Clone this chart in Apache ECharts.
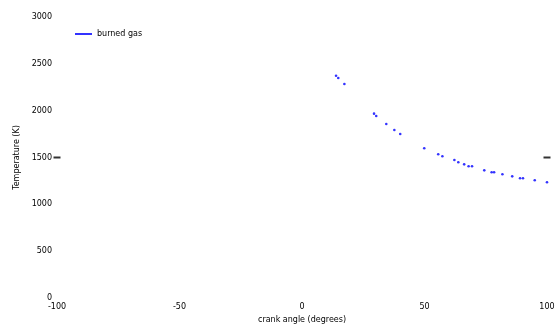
<!DOCTYPE html>
<html><head><meta charset="utf-8">
<script src="https://cdn.jsdelivr.net/npm/echarts@6/dist/echarts.min.js"></script>
<style>html,body{margin:0;padding:0;background:#fff}#c{width:558px;height:335px}</style>
</head><body><div id="c"></div>
<script>
var crankAngle = [13.9, 14.8, 17.3, 29.4, 30.3, 34.4, 37.7, 40.1, 49.9, 55.6, 57.3, 62.2, 63.8, 66.2, 68.0, 69.4, 74.4, 77.4, 78.4, 81.8, 85.8, 89.0, 90.2, 95.0, 100.0];
var burnedTemp = [2373, 2349, 2285, 1968, 1943, 1858, 1794, 1751, 1598, 1534, 1513, 1473, 1449, 1427, 1406, 1406, 1363, 1342, 1342, 1321, 1299, 1278, 1278, 1257, 1235];
var markerX = [-100, 100];
var markerY = [1500, 1500];
var xTicks = [-100, -50, 0, 50, 100];
var yTicks = [0, 500, 1000, 1500, 2000, 2500, 3000];

var chart = echarts.init(document.getElementById('c'));
var font = 'DejaVu Sans';
chart.setOption({
  animation: false,
  backgroundColor: '#fff',
  grid: {left: 57, right: 11, top: 17, bottom: 37},
  legend: {
    left: 70, top: 25,
    itemWidth: 17, itemHeight: 2, itemGap: 4,
    textStyle: {fontFamily: font, fontSize: 8, color: '#000'},
    data: [{name: 'burned gas', icon: 'rect', itemStyle: {color: '#0000ff'}}]
  },
  xAxis: {
    type: 'value', min: xTicks[0], max: xTicks[xTicks.length-1], interval: 50,
    name: 'crank angle (degrees)', nameLocation: 'middle', nameGap: 15,
    nameTextStyle: {fontFamily: font, fontSize: 8, color: '#000'},
    axisLine: {show: false}, axisTick: {show: false}, splitLine: {show: false},
    axisLabel: {fontFamily: font, fontSize: 8, color: '#000', margin: 5, formatter: function(v){ return String(v); }}
  },
  yAxis: {
    type: 'value', min: yTicks[0], max: yTicks[yTicks.length-1], interval: 500,
    name: 'Temperature (K)', nameLocation: 'middle', nameGap: 35,
    nameTextStyle: {fontFamily: font, fontSize: 8, color: '#000'},
    axisLine: {show: false}, axisTick: {show: false}, splitLine: {show: false},
    axisLabel: {fontFamily: font, fontSize: 8, color: '#000', margin: 5, formatter: function(v){ return String(v); }}
  },
  series: [
    {
      name: 'burned gas', type: 'scatter', symbol: 'circle', symbolSize: 2.6,
      itemStyle: {color: '#0000ff'},
      data: crankAngle.map(function(x, i){ return [x, burnedTemp[i]]; })
    },
    {
      name: 'marker', type: 'scatter', symbol: 'rect', symbolSize: [7, 2],
      itemStyle: {color: '#000'},
      data: markerX.map(function(x, i){ return [x, markerY[i]]; })
    }
  ]
});
</script></body></html>
